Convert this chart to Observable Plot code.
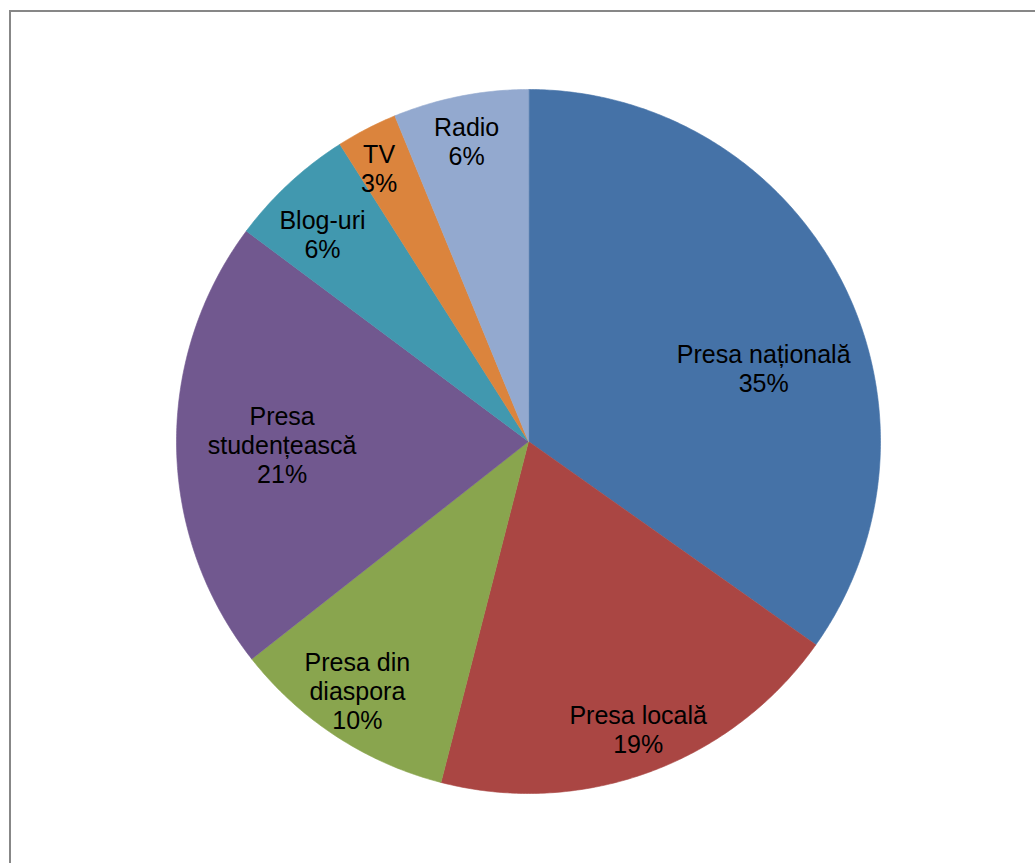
<!DOCTYPE html>
<html>
<head>
<meta charset="utf-8">
<script src="https://cdn.jsdelivr.net/npm/d3@7"></script>
<script src="https://cdn.jsdelivr.net/npm/@observablehq/plot@0.6"></script>
<style>
  html, body { margin: 0; padding: 0; background: #fff; overflow: hidden; }
  #frame { position: absolute; left: 9px; top: 10px; width: 1200px; height: 1000px;
           border: 2px solid #878787; box-sizing: border-box; }
  #chart { position: absolute; left: 0; top: 0; }
</style>
</head>
<body>
<div id="frame"></div>
<div id="chart"></div>
<script>
// Data (clockwise from 12 o'clock)
const categories = ["Presa națională", "Presa locală", "Presa din diaspora", "Presa studențească", "Blog-uri", "TV", "Radio"];
const labelLines = ["Presa națională", "Presa locală", "Presa din\ndiaspora", "Presa\nstudențească", "Blog-uri", "TV", "Radio"];
const shares = [34.8, 19.2, 10.4, 20.8, 5.8, 2.8, 6.2];
const colors = ["#4572A7", "#AA4643", "#89A54E", "#71588F", "#4198AF", "#DB843D", "#93A9CF"];

// Label placement (fraction of radius, angular nudge in degrees)
const labelRadius = [0.70, 0.875, 0.86, 0.70, 0.83, 0.885, 0.87];
const labelShift = [10, -0.7, 1.3, 0, -2, -1.3, -0.5];

const arcs = d3.pie().sort(null).startAngle(0).endAngle(2 * Math.PI)(shares);

const polys = [];
arcs.forEach((a, i) => {
  polys.push({name: categories[i], x: 0, y: 0});
  const n = Math.max(2, Math.ceil((a.endAngle - a.startAngle) / (Math.PI / 360)));
  for (let k = 0; k <= n; k++) {
    const t = a.startAngle + (a.endAngle - a.startAngle) * k / n;
    polys.push({name: categories[i], x: Math.sin(t), y: Math.cos(t)});
  }
});

const labels = arcs.map((a, i) => {
  const t = (a.startAngle + a.endAngle) / 2 + labelShift[i] * Math.PI / 180;
  const r = labelRadius[i];
  return {
    x: r * Math.sin(t), y: r * Math.cos(t),
    text: labelLines[i] + "\n" + Math.round(shares[i]) + "%"
  };
});

const cx = 528, cy = 441, R = 352;
const chart = Plot.plot({
  width: 1035,
  height: 863,
  margin: 0,
  x: {domain: [-1, 1], range: [cx - R, cx + R], axis: null},
  y: {domain: [-1, 1], range: [cy + R, cy - R], axis: null},
  color: {type: "ordinal", domain: categories, range: colors},
  style: {background: "transparent", overflow: "visible"},
  marks: [
    Plot.line(polys, {x: "x", y: "y", z: "name", fill: "name", stroke: "name", strokeWidth: 0.6, curve: "linear-closed"}),
    Plot.text(labels, {
      x: "x", y: "y", text: "text",
      fontSize: 25, fontFamily: "Arial, 'Liberation Sans', sans-serif",
      fill: "#000", lineAnchor: "middle", lineHeight: 1.16
    })
  ]
});
document.getElementById("chart").appendChild(chart);
</script>
</body>
</html>
